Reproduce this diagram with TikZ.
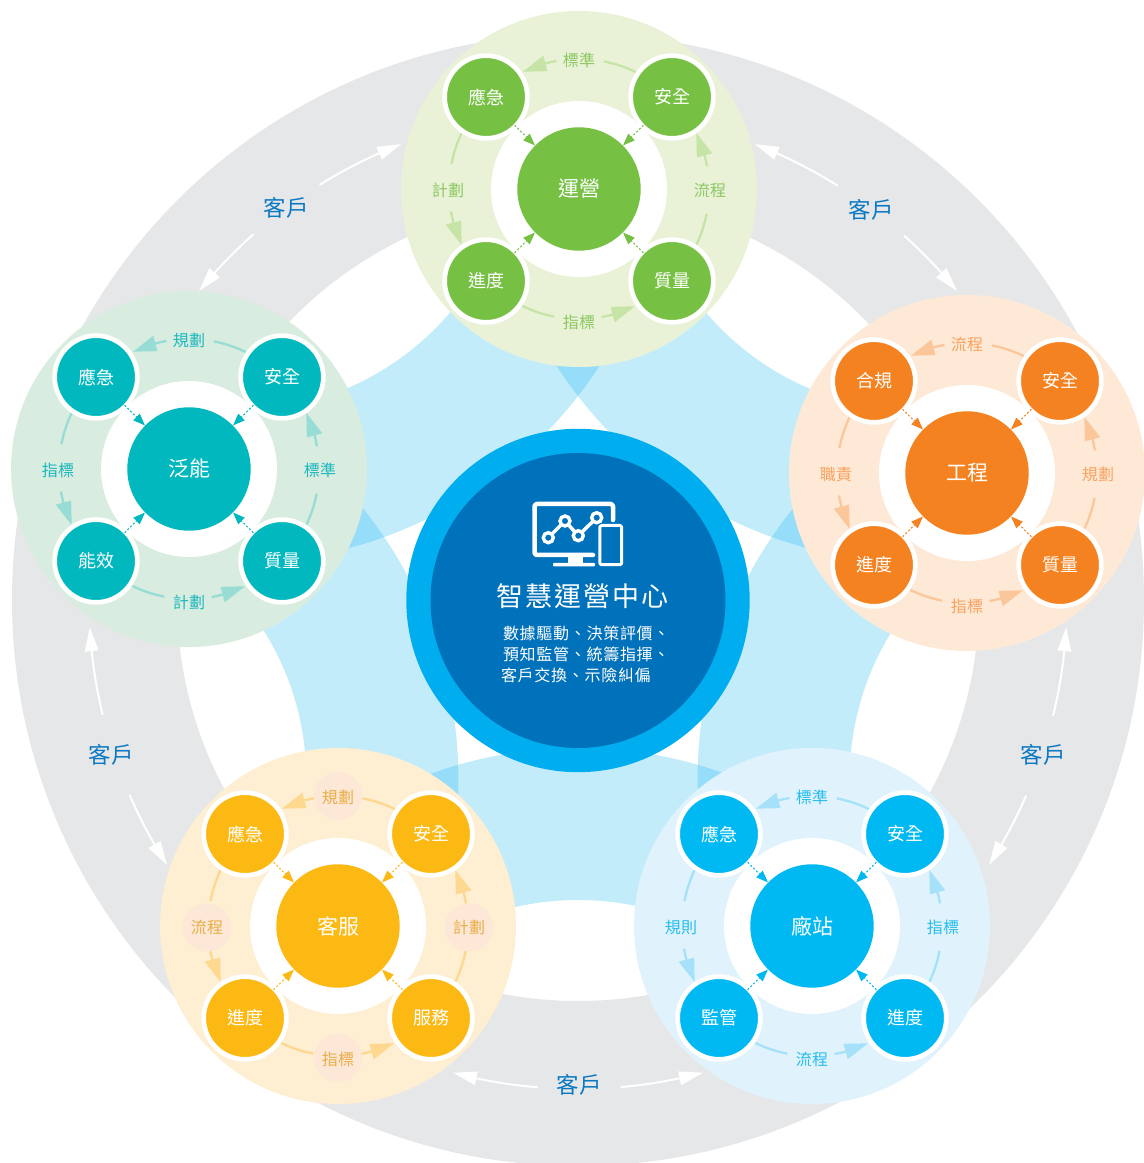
\documentclass[tikz,border=0pt]{standalone}
\usepackage{fontspec}
\setmainfont{Noto Sans CJK TC}
\usetikzlibrary{calc,arrows.meta}
\definecolor{ringgray}{HTML}{E6E7E8}
\definecolor{petal}{HTML}{00AEEF}
\definecolor{hubouter}{HTML}{00AEEF}
\definecolor{hubinner}{HTML}{0071BB}
\definecolor{custcol}{HTML}{0A78C2}
\definecolor{lblbg}{HTML}{FDE7D6}
\newcommand\sz[2]{\fontsize{#1}{#1}\selectfont\addfontfeature{LetterSpace=#2}}
\tikzset{
  cjkbox/.style={text height=.88*#1 pt,text depth=.12*#1 pt,inner sep=0pt,outer sep=0pt},
  discbg/.style={circle,minimum size=356pt,inner sep=0pt,fill=hbg},
  discwhite/.style={circle,minimum size=176pt,inner sep=0pt,fill=white},
  corenode/.style={circle,minimum size=123.4pt,inner sep=0pt,fill=hmain,text=white,font=\sz{21}{3}},
  satnode/.style={circle,minimum size=82.7pt,inner sep=0pt,fill=hmain,draw=white,line width=4.7pt,text=white,font=\sz{18}{4}},
  lab/.style={cjkbox=16,text=htext,font=\sz{16}{3}},
  tiny/.style={draw=hmain,line width=1.1pt,dash pattern=on 2pt off 2pt,shorten <=-3.5pt,-{Triangle[length=12pt,width=9pt,fill=hmain]}},
  flowc/.style={color=harrow},
  cust/.style={cjkbox=22.5,text=custcol,font=\sz{22.5}{1}},
  subline/.style={cjkbox=16,text=white,font=\sz{16}{4.5},anchor=west},
  iconw/.style={draw=white,line cap=round,line join=round}
}
\newcommand\myflow[7]{%
  \draw[flowc,line width=#7] ($(#1)+(#3:#2pt)$) arc[start angle=#3,end angle=#4,radius=#2pt];
  \fill[flowc] ($(#1)+(#5:#2pt)$) -- ($(#1)+(#4:#2pt+#6pt)$) -- ($(#1)+(#4:#2pt-#6pt)$) -- cycle;
}
\newcommand\cjkc[1]{\hspace*{1pt}\vphantom{國}\raisebox{-.7pt}{#1}}
\newcommand\myhub[8]{%
  \coordinate (#1) at (#2,#3);
  \node[discbg] (#1-bg) at (#1) {};
  \node[discwhite] (#1-w) at (#1) {};
  \foreach \a in {0,90,180,270}{
    \myflow{#1}{130}{64+\a}{79+\a}{79+\a}{0}{2.3}
    \myflow{#1}{130}{100+\a}{105+\a}{115.5+\a}{8}{2.3}
  }
  \node[corenode] (#1-c) at (#1) {\cjkc{#4}};
  \node[satnode] (#1-tl) at ($(#1)+(-93,92)$) {\cjkc{#5}};
  \node[satnode] (#1-tr) at ($(#1)+(93,92)$) {\cjkc{#6}};
  \node[satnode] (#1-bl) at ($(#1)+(-93,-92)$) {\cjkc{#7}};
  \node[satnode] (#1-br) at ($(#1)+(93,-92)$) {\cjkc{#8}};
  \foreach \s in {tl,tr,bl,br}{ \draw[tiny] (#1-\s) -- (#1-c); }
}
\newcommand\mylabels[5]{%
  \node[lab] (#1-lt) at ($(#1)+(0,129)$) {#2};
  \node[lab] (#1-ll) at ($(#1)+(-131,-1.5)$) {#3};
  \node[lab] (#1-lb) at ($(#1)+(0,-133)$) {#4};
  \node[lab] (#1-lr) at ($(#1)+(131,-1.5)$) {#5};
}
\begin{document}
\begin{tikzpicture}[x=1pt,y=1pt]
\useasboundingbox (0,0) rectangle (1144,1163);
\coordinate (ctr) at (578,563);
% grey ring
\begin{scope}
  \clip (0,0) rectangle (1144,1163);
  \fill[ringgray,even odd rule] (ctr) circle (566pt) (ctr) circle (401pt);
\end{scope}
% five overlapping petals
\begin{scope}
  \clip (ctr) circle (401pt);
  \foreach \b in {54,126,198,270,342}{
    \fill[petal,fill opacity=.235,even odd rule] ($(ctr)+(\b:580pt)$) circle (432pt) ($(ctr)+(\b:580pt)$) circle (280pt);
  }
\end{scope}
% centre
\node[circle,minimum size=343.4pt,inner sep=0pt,fill=hubouter] (mainouter) at (578,562.5) {};
\node[circle,minimum size=295pt,inner sep=0pt,fill=hubinner] (maininner) at (mainouter) {};
% icon
\begin{scope}[shift={(0,1163)},y=-1pt]
  \draw[iconw,line width=4.5pt,rounded corners=2.5pt] (613,520) -- (613,504) -- (534.5,504) -- (534.5,555) -- (593,555);
  \fill[white] (568,557) rectangle (583,564);
  \fill[white,rounded corners=1pt] (553,563) rectangle (595,566.5);
  \draw[iconw,line width=3pt,rounded corners=2pt] (599.8,525.5) rectangle (621.7,564.7);
  \draw[iconw,line width=3.5pt] (548.3,537.7) -- (565,521) -- (578.3,535.7) -- (596.7,517.7);
  \foreach \p in {(548.3,537.7),(565,521),(578.3,535.7),(596.7,517.7)}{
    \draw[white,line width=3.4pt,fill=hubinner] \p circle (5pt);
  }
\end{scope}
\node[cjkbox=27,text=white,font=\sz{27}{7}] (maintitle) at (582.5,566.5) {智慧運營中心};
\node[subline] (mainsub1) at (503,529.5) {數據驅動、決策評價、};
\node[subline] (mainsub2) at (503,508.5) {預知監管、統籌指揮、};
\node[subline] (mainsub3) at (501,487.5) {客戶交換、示險糾偏};
% green
\begin{scope}
\definecolor{hmain}{HTML}{76C043}\definecolor{hbg}{HTML}{E9F2D7}\definecolor{harrow}{HTML}{C6E4A6}\definecolor{htext}{HTML}{8CC862}
\myhub{opr}{579}{974}{運營}{應急}{安全}{進度}{質量}
\mylabels{opr}{標準}{計劃}{指標}{流程}
\end{scope}
\begin{scope}
\definecolor{hmain}{HTML}{00B8BE}\definecolor{hbg}{HTML}{D8ECDF}\definecolor{harrow}{HTML}{97DDD5}\definecolor{htext}{HTML}{1CB8BE}
\myhub{eng}{189}{694}{泛能}{應急}{安全}{能效}{質量}
\mylabels{eng}{規劃}{指標}{計劃}{標準}
\end{scope}
\begin{scope}
\definecolor{hmain}{HTML}{F58220}\definecolor{hbg}{HTML}{FEE9D7}\definecolor{harrow}{HTML}{FBC79A}\definecolor{htext}{HTML}{F9A25E}
\myhub{pro}{967}{690}{工程}{合規}{安全}{進度}{質量}
\mylabels{pro}{流程}{職責}{指標}{規劃}
\end{scope}
\begin{scope}
\definecolor{hmain}{HTML}{FDB913}\definecolor{hbg}{HTML}{FEEED2}\definecolor{harrow}{HTML}{FDD88E}\definecolor{htext}{HTML}{E9AE48}
\myhub{srv}{338}{237}{客服}{應急}{安全}{進度}{服務}
\foreach \dx/\dy in {0/130,-131/-1.5,0/-132,131/-1.5}{
  \fill[lblbg] ($(srv)+(\dx,\dy)$) circle (24pt);
}
\mylabels{srv}{規劃}{流程}{指標}{計劃}
\end{scope}
\begin{scope}
\definecolor{hmain}{HTML}{00B9F2}\definecolor{hbg}{HTML}{E0F3FC}\definecolor{harrow}{HTML}{A5E1F8}\definecolor{htext}{HTML}{27BDEE}
\myhub{sta}{812}{237}{廠站}{應急}{安全}{監管}{進度}
\mylabels{sta}{標準}{規則}{流程}{指標}
\end{scope}
% customer arrows
\colorlet{harrow}{white}
\foreach \n/\lx/\ly/\c/\p/\m in {c1/871/953/54/3.9/5.8,c2/286/955/126/5.6/4.1,c3/111/408/198/5.5/4.4,c4/579/78/270/5/4.7,c5/1043/408/342/4.3/5.6}{
  \node[cust] (\n) at (\lx,\ly) {客戶};
  \myflow{ctr}{489}{\c+\p}{\c+12}{\c+14.8}{7}{2}
  \myflow{ctr}{489}{\c-\m}{\c-12}{\c-14.8}{7}{2}
}
\end{tikzpicture}
\end{document}
